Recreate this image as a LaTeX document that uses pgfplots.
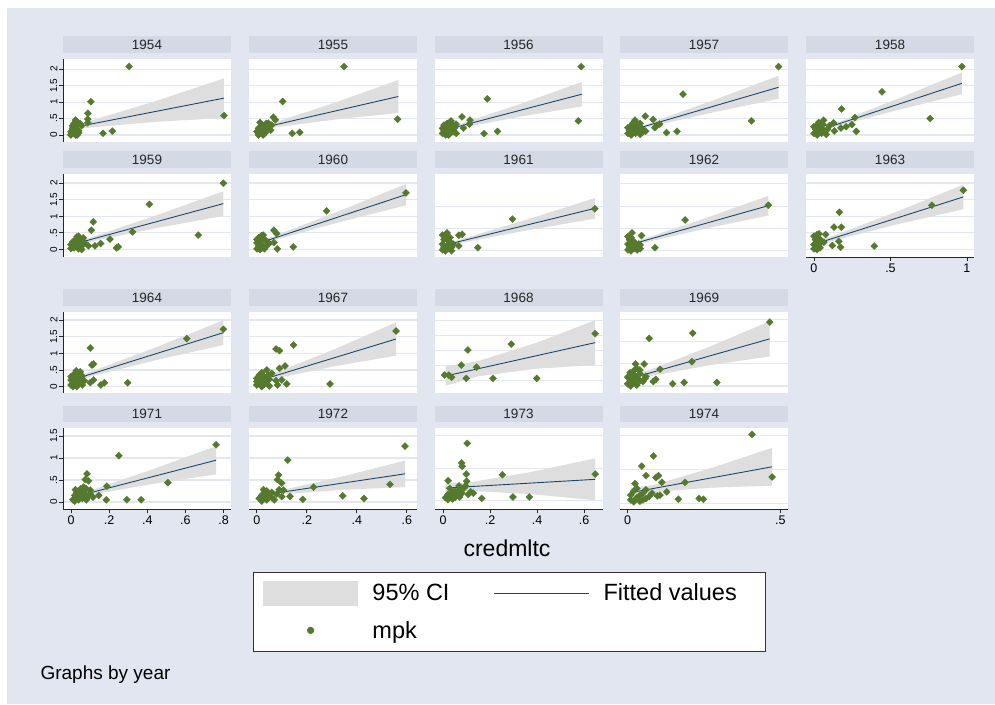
\documentclass[border=0pt]{standalone}
\usepackage{fontspec}
\setmainfont{Liberation Sans}
\usepackage{pgfplots}
\pgfplotsset{compat=1.18}
\definecolor{bgc}{HTML}{E1E6F0}
\definecolor{stripc}{HTML}{D3D9E5}
\definecolor{gridc}{HTML}{E3E8F0}
\definecolor{bandc}{HTML}{DEDEDE}
\definecolor{navyc}{HTML}{1A476F}
\definecolor{greenc}{HTML}{557A2E}
\newcommand{\fs}[1]{\fontsize{#1}{#1}\selectfont}
\pgfplotsset{
 panel/.style={
  scale only axis, width=168pt,
  axis background/.style={fill=white},
  axis x line*=bottom, axis y line*=left,
  x axis line style={draw=none}, y axis line style={draw=none},
  xtick=\empty, ymajorgrids,
  grid style={gridc, line width=1.1pt},
  ytick style={draw=none}, yticklabels={},
  major tick length=4pt, tick align=outside,
  title style={at={(0.5,1)}, anchor=south, fill=stripc, minimum width=168pt,
    minimum height=16.5pt, inner sep=0pt, font=\fs{13.5}, text=black!85},
 },
 yon/.style={y axis line style={draw=black!85, line width=0.8pt},
   ytick style={draw=black!85, line width=0.8pt},
   yticklabel style={rotate=90, anchor=south, font=\fs{10}, inner sep=1.5pt}},
 xon/.style={x axis line style={draw=black!85, line width=0.8pt},
   xtick style={draw=black!85, line width=0.8pt},
   xticklabel style={font=\fs{12.5}, inner sep=2pt}},
 topx/.style={xmin=-0.052, xmax=1.046},
 r1/.style={height=83pt, ymin=-0.213, ymax=2.31, ytick={0,0.5,1,1.5,2}},
 r2/.style={height=83.5pt, ymin=-0.24, ymax=2.27, ytick={0,0.5,1,1.5,2}},
 band/.style={fill=bandc, draw=none},
 fit/.style={navyc, line width=0.9pt, no marks},
 pts/.style={only marks, mark=square*, mark size=2.5pt,
   mark options={rotate=45, fill=greenc, draw=greenc, line width=0.3pt}},
}
\begin{document}
\begin{tikzpicture}
\useasboundingbox (0pt,0pt) rectangle (995pt,704pt);
\fill[white] (0pt,0pt) rectangle (995pt,704pt);
\fill[bgc] (7pt,0pt) rectangle (995pt,696pt);
\node[anchor=base, font=\fs{23}] at (507pt,147pt) {credmltc};
\node[anchor=base west, font=\fs{19}] at (37pt,25pt) {Graphs by year};

% ---------- 1954
\begin{axis}[panel, topx, r1, yon, yticklabels={0,.5,1,1.5,2}, title={1954}, at={(63pt,562pt)}, anchor=south west]
\addplot[band] coordinates {(0.04,0.166)(0.08,0.206)(0.54,0.395)(1.0,0.52)(1.0,1.72)(0.54,1.011)(0.08,0.366)(0.04,0.334)} --cycle;
\addplot[fit] coordinates {(0.04,0.25)(1.0,1.12)};
\addplot[pts] coordinates {(0.00,0.10)(0.01,0.20)(0.02,0.05)(0.02,0.35)(0.02,0.15)(0.03,0.25)(0.04,0.40)(0.04,0.00)(0.05,0.13)(0.06,0.35)(0.03,0.00)(0.00,0.00)(0.05,0.07)(0.00,0.02)(0.01,0.28)(0.07,0.28)(0.03,0.45)(0.11,0.37)(0.11,0.48)(0.11,0.66)(0.13,1.01)(0.21,0.05)(0.27,0.12)(0.38,2.08)(1.00,0.59)};
\end{axis}
% ---------- 1955
\begin{axis}[panel, topx, r1, title={1955}, at={(249pt,562pt)}, anchor=south west]
\addplot[band] coordinates {(0.01,0.105)(0.1,0.219)(0.512,0.472)(0.924,0.67)(0.924,1.67)(0.512,0.986)(0.1,0.359)(0.01,0.281)} --cycle;
\addplot[fit] coordinates {(0.01,0.193)(0.924,1.17)};
\addplot[pts] coordinates {(0.0,0.1)(0.01,0.2)(0.02,0.05)(0.03,0.15)(0.04,0.0)(0.05,0.25)(0.06,0.1)(0.07,0.2)(0.08,0.28)(0.03,0.3)(0.01,0.0)(0.05,0.05)(0.09,0.15)(0.06,0.35)(0.02,0.22)(0.02,0.38)(0.074,0.36)(0.096,0.30)(0.12,0.46)(0.107,0.54)(0.168,1.02)(0.231,0.05)(0.279,0.08)(0.569,2.08)(0.919,0.48)};
\end{axis}
% ---------- 1956
\begin{axis}[panel, topx, r1, title={1956}, at={(434.5pt,562pt)}, anchor=south west]
\addplot[band] coordinates {(0.01,0.072)(0.1,0.194)(0.505,0.554)(0.911,0.87)(0.911,1.61)(0.505,0.938)(0.1,0.314)(0.01,0.216)} --cycle;
\addplot[fit] coordinates {(0.01,0.144)(0.911,1.24)};
\addplot[pts] coordinates {(0.0,0.05)(0.01,0.15)(0.02,0.0)(0.02,0.25)(0.03,0.1)(0.04,0.3)(0.05,0.05)(0.05,0.18)(0.06,0.35)(0.07,0.1)(0.08,0.22)(0.03,0.35)(0.0,0.2)(0.04,0.0)(0.09,0.05)(0.01,0.3)(0.056,0.43)(0.089,0.33)(0.137,0.21)(0.176,0.33)(0.18,0.45)(0.128,0.55)(0.36,0.11)(0.272,0.04)(0.293,1.10)(0.888,0.43)(0.907,2.08)};
\end{axis}
% ---------- 1957
\begin{axis}[panel, topx, r1, title={1957}, at={(620pt,562pt)}, anchor=south west]
\addplot[band] coordinates {(0.01,0.061)(0.12,0.227)(0.552,0.684)(0.984,1.10)(0.984,1.80)(0.552,1.044)(0.12,0.327)(0.01,0.195)} --cycle;
\addplot[fit] coordinates {(0.01,0.128)(0.984,1.45)};
\addplot[pts] coordinates {(0.0,0.05)(0.01,0.15)(0.02,0.0)(0.02,0.28)(0.03,0.1)(0.04,0.2)(0.05,0.05)(0.06,0.3)(0.07,0.12)(0.08,0.02)(0.09,0.2)(0.1,0.1)(0.03,0.35)(0.0,0.22)(0.05,0.38)(0.046,0.45)(0.08,0.35)(0.113,0.57)(0.164,0.47)(0.116,0.12)(0.176,0.22)(0.207,0.33)(0.19,0.30)(0.252,0.07)(0.32,0.11)(0.36,1.24)(0.807,0.43)(0.984,2.08)};
\end{axis}
% ---------- 1958
\begin{axis}[panel, topx, r1, title={1958}, at={(806pt,562pt)}, anchor=south west]
\addplot[band] coordinates {(0.01,0.04)(0.13,0.241)(0.549,0.761)(0.967,1.24)(0.967,1.90)(0.549,1.103)(0.13,0.341)(0.01,0.176)} --cycle;
\addplot[fit] coordinates {(0.01,0.108)(0.967,1.57)};
\addplot[pts] coordinates {(0.0,0.05)(0.01,0.18)(0.02,0.0)(0.02,0.3)(0.03,0.1)(0.04,0.22)(0.05,0.05)(0.06,0.32)(0.07,0.12)(0.08,0.02)(0.09,0.18)(0.1,0.28)(0.03,0.38)(0.0,0.25)(0.05,0.12)(0.063,0.45)(0.128,0.37)(0.133,0.12)(0.176,0.21)(0.181,0.79)(0.21,0.25)(0.248,0.32)(0.267,0.53)(0.277,0.11)(0.445,1.31)(0.759,0.50)(0.967,2.08)};
\end{axis}
% ---------- 1959
\begin{axis}[panel, topx, r2, yon, yticklabels={0,.5,1,1.5,2}, title={1959}, at={(63pt,446.5pt)}, anchor=south west]
\addplot[band] coordinates {(0,0.062)(0.12,0.229)(0.558,0.643)(0.996,1.01)(0.996,1.75)(0.558,1.027)(0.12,0.349)(0,0.218)} --cycle;
\addplot[fit] coordinates {(0,0.14)(0.996,1.38)};
\addplot[pts] coordinates {(0.0,0.03)(0.0,0.15)(0.01,0.22)(0.02,0.05)(0.03,0.3)(0.04,0.12)(0.05,0.4)(0.05,0.02)(0.06,0.25)(0.07,0.1)(0.08,0.35)(0.03,0.18)(0.01,0.08)(0.07,0.0)(0.09,0.2)(0.04,0.38)(0.115,0.11)(0.133,0.58)(0.146,0.83)(0.157,0.11)(0.194,0.18)(0.255,0.31)(0.298,0.05)(0.309,0.08)(0.403,0.53)(0.512,1.36)(0.832,0.43)(0.996,1.99)};
\end{axis}
% ---------- 1960
\begin{axis}[panel, topx, r2, title={1960}, at={(249pt,446.5pt)}, anchor=south west]
\addplot[band] coordinates {(0,0.10)(0.1,0.262)(0.537,0.818)(0.974,1.33)(0.974,1.97)(0.537,1.154)(0.1,0.382)(0,0.24)} --cycle;
\addplot[fit] coordinates {(0,0.17)(0.974,1.65)};
\addplot[pts] coordinates {(0.0,0.02)(0.0,0.2)(0.01,0.1)(0.01,0.35)(0.02,0.0)(0.02,0.25)(0.03,0.15)(0.03,0.42)(0.04,0.05)(0.05,0.3)(0.06,0.1)(0.07,0.22)(0.0,0.3)(0.05,0.02)(0.08,0.18)(0.041,0.43)(0.111,0.21)(0.111,0.58)(0.128,0.48)(0.133,0.02)(0.237,0.08)(0.455,1.16)(0.974,1.70)};
\end{axis}
% ---------- 1961
\begin{axis}[panel, topx, height=83.5pt, ymin=-0.15, ymax=1.72, ytick={0,0.5,1}, title={1961}, at={(434.5pt,446.5pt)}, anchor=south west]
\addplot[band] coordinates {(0,0.075)(0.09,0.156)(0.543,0.451)(0.996,0.72)(0.996,1.18)(0.543,0.689)(0.09,0.226)(0,0.157)} --cycle;
\addplot[fit] coordinates {(0,0.116)(0.996,0.95)};
\addplot[pts] coordinates {(0.0,0.02)(0.0,0.15)(0.01,0.08)(0.01,0.25)(0.02,0.0)(0.02,0.32)(0.03,0.12)(0.03,0.4)(0.04,0.05)(0.05,0.2)(0.05,0.3)(0.06,0.08)(0.07,0.15)(0.0,0.35)(0.04,0.22)(0.06,0.0)(0.107,0.11)(0.107,0.35)(0.129,0.37)(0.231,0.07)(0.458,0.71)(0.996,0.94)};
\end{axis}
% ---------- 1962
\begin{axis}[panel, topx, height=83.5pt, ymin=-0.15, ymax=1.72, ytick={0,0.5,1,1.5}, title={1962}, at={(620pt,446.5pt)}, anchor=south west]
\addplot[band] coordinates {(0,0.079)(0.08,0.161)(0.499,0.491)(0.917,0.79)(0.917,1.23)(0.499,0.721)(0.08,0.241)(0,0.169)} --cycle;
\addplot[fit] coordinates {(0,0.124)(0.917,1.01)};
\addplot[pts] coordinates {(0.0,0.02)(0.0,0.15)(0.01,0.08)(0.01,0.25)(0.02,0.0)(0.02,0.3)(0.03,0.12)(0.04,0.05)(0.04,0.2)(0.05,0.1)(0.06,0.02)(0.07,0.15)(0.0,0.32)(0.03,0.22)(0.08,0.05)(0.026,0.40)(0.08,0.13)(0.089,0.34)(0.176,0.07)(0.373,0.69)(0.917,1.02)};
\end{axis}
% ---------- 1963
\begin{axis}[panel, topx, r2, xon, xtick={0,0.5,1}, xticklabels={0,.5,1}, title={1963}, at={(806pt,446.5pt)}, anchor=south west]
\addplot[band] coordinates {(0,0.068)(0.12,0.26)(0.548,0.761)(0.976,1.21)(0.976,1.95)(0.548,1.149)(0.12,0.40)(0,0.242)} --cycle;
\addplot[fit] coordinates {(0,0.155)(0.976,1.58)};
\addplot[pts] coordinates {(0.0,0.02)(0.0,0.15)(0.01,0.3)(0.01,0.08)(0.02,0.22)(0.02,0.0)(0.03,0.12)(0.03,0.35)(0.04,0.05)(0.05,0.25)(0.0,0.4)(0.02,0.45)(0.04,0.3)(0.01,0.18)(0.033,0.47)(0.065,0.22)(0.076,0.45)(0.12,0.12)(0.131,0.67)(0.163,0.25)(0.166,1.12)(0.174,0.07)(0.179,0.67)(0.394,0.10)(0.771,1.33)(0.976,1.78)};
\end{axis}
% ---------- 1964
\begin{axis}[panel, xmin=-0.042, xmax=0.839, height=81pt, ymin=-0.19, ymax=2.24, ytick={0,0.5,1,1.5,2}, yon, yticklabels={0,.5,1,1.5,2}, title={1964}, at={(63pt,311pt)}, anchor=south west]
\addplot[band] coordinates {(0,0.105)(0.1,0.301)(0.45,0.801)(0.799,1.25)(0.799,1.99)(0.45,1.191)(0.1,0.441)(0,0.279)} --cycle;
\addplot[fit] coordinates {(0,0.192)(0.799,1.62)};
\addplot[pts] coordinates {(0.0,0.05)(0.0,0.3)(0.01,0.15)(0.01,0.0)(0.02,0.22)(0.02,0.08)(0.03,0.35)(0.03,0.0)(0.04,0.12)(0.05,0.25)(0.06,0.05)(0.07,0.18)(0.0,0.2)(0.02,0.4)(0.028,0.48)(0.04,0.20)(0.049,0.45)(0.058,0.32)(0.101,0.12)(0.101,1.16)(0.11,0.65)(0.119,0.68)(0.119,0.20)(0.157,0.05)(0.175,0.12)(0.297,0.12)(0.607,1.44)(0.799,1.72)};
\end{axis}
% ---------- 1967
\begin{axis}[panel, xmin=-0.031, xmax=0.641, height=81pt, ymin=-0.19, ymax=2.24, ytick={0,0.5,1,1.5,2}, title={1967}, at={(249pt,311pt)}, anchor=south west]
\addplot[band] coordinates {(0,0.037)(0.08,0.251)(0.318,0.623)(0.557,0.93)(0.557,1.93)(0.318,1.145)(0.08,0.431)(0,0.281)} --cycle;
\addplot[fit] coordinates {(0,0.159)(0.557,1.43)};
\addplot[pts] coordinates {(0.0,0.05)(0.0,0.25)(0.01,0.12)(0.01,0.35)(0.02,0.0)(0.02,0.2)(0.03,0.3)(0.03,0.08)(0.04,0.15)(0.05,0.22)(0.06,0.4)(0.05,0.02)(0.0,0.15)(0.02,0.42)(0.04,0.50)(0.047,0.35)(0.077,0.18)(0.077,1.13)(0.083,0.05)(0.091,1.08)(0.091,0.55)(0.10,0.20)(0.113,0.62)(0.12,0.08)(0.147,1.25)(0.293,0.08)(0.557,1.67)};
\end{axis}
% ---------- 1968
\begin{axis}[panel, xmin=-0.037, xmax=0.678, height=81pt, ymin=-0.40, ymax=2.27, ytick={0,0.5,1,1.5,2}, title={1968}, at={(434.5pt,311pt)}, anchor=south west]
\addplot[band] coordinates {(0.01,-0.158)(0.15,0.152)(0.399,0.403)(0.647,0.52)(0.647,2.0)(0.399,1.261)(0.15,0.652)(0.01,0.478)} --cycle;
\addplot[fit] coordinates {(0.01,0.16)(0.647,1.26)};
\addplot[pts] coordinates {(0.006,0.19)(0.024,0.19)(0.036,0.12)(0.077,0.52)(0.098,0.08)(0.105,1.02)(0.142,0.45)(0.212,0.08)(0.29,1.21)(0.398,0.08)(0.647,1.56)};
\end{axis}
% ---------- 1969
\begin{axis}[panel, xmin=-0.025, xmax=0.525, height=81pt, ymin=-0.16, ymax=1.68, ytick={0,0.5,1,1.5}, title={1969}, at={(620pt,311pt)}, anchor=south west]
\addplot[band] coordinates {(0,0.052)(0.07,0.219)(0.268,0.471)(0.465,0.67)(0.465,1.47)(0.268,0.891)(0.07,0.359)(0,0.25)} --cycle;
\addplot[fit] coordinates {(0,0.151)(0.465,1.07)};
\addplot[pts] coordinates {(0.0,0.05)(0.01,0.15)(0.01,0.0)(0.02,0.25)(0.02,0.08)(0.03,0.18)(0.03,0.02)(0.04,0.28)(0.05,0.1)(0.04,0.12)(0.02,0.35)(0.06,0.22)(0.0,0.2)(0.03,0.4)(0.008,0.30)(0.026,0.50)(0.04,0.36)(0.054,0.50)(0.057,0.17)(0.071,1.08)(0.084,0.10)(0.092,0.15)(0.106,0.38)(0.147,0.05)(0.185,0.08)(0.21,0.55)(0.213,1.20)(0.292,0.08)(0.465,1.45)};
\end{axis}
% ---------- 1971 (carries the legend)
\begin{axis}[panel, xmin=-0.042, xmax=0.839, height=81pt, ymin=-0.166, ymax=1.675, ytick={0,0.5,1,1.5}, yon, yticklabels={0,.5,1,1.5}, xon, xtick={0,0.2,0.4,0.6,0.8}, xticklabels={0,.2,.4,.6,.8}, title={1971}, at={(63pt,194.7pt)}, anchor=south west,
  legend style={at={(1.1327,-0.770)}, anchor=north west, draw=black!80, line width=0.8pt, fill=white,
    font=\fs{23.5}, inner xsep=9pt, inner ysep=8pt, row sep=11pt,
    /tikz/every even column/.append style={column sep=42pt},
    /tikz/every odd column/.append style={column sep=12pt}},
  legend columns=2, legend cell align=left]
\addplot[band, legend image code/.code={\fill[bandc] (0pt,-12.5pt) rectangle (95pt,12.5pt);}] coordinates {(0.01,0.042)(0.1,0.159)(0.43,0.413)(0.761,0.63)(0.761,1.27)(0.43,0.745)(0.1,0.259)(0.01,0.174)} --cycle;
\addlegendentry{95\% CI}
\addplot[fit, legend image code/.code={\draw[navyc, line width=1pt] (0pt,0pt) -- (95pt,0pt); \path (0pt,-12.5pt) (95pt,12.5pt);}] coordinates {(0.01,0.108)(0.761,0.95)};
\addlegendentry{Fitted values\rule{18pt}{0pt}}
\addplot[pts, legend image code/.code={\fill[greenc] (47.5pt,0pt) circle (3.2pt); \path (0pt,-13pt) (95pt,13pt);}] coordinates {(0.01,0.05)(0.02,0.15)(0.02,0.02)(0.03,0.22)(0.03,0.1)(0.04,0.05)(0.05,0.15)(0.06,0.25)(0.06,0.08)(0.07,0.2)(0.08,0.3)(0.09,0.12)(0.1,0.18)(0.05,0.3)(0.08,0.05)(0.023,0.28)(0.04,0.19)(0.066,0.34)(0.075,0.51)(0.084,0.64)(0.092,0.48)(0.101,0.27)(0.115,0.11)(0.145,0.15)(0.185,0.05)(0.188,0.36)(0.251,1.05)(0.293,0.05)(0.368,0.05)(0.508,0.44)(0.761,1.30)};
\addlegendentry{mpk}
\end{axis}
% ---------- 1972
\begin{axis}[panel, xmin=-0.031, xmax=0.641, height=81pt, ymin=-0.166, ymax=1.675, ytick={0,0.5,1,1.5}, xon, xtick={0,0.2,0.4,0.6}, xticklabels={0,.2,.4,.6}, title={1972}, at={(249pt,194.7pt)}, anchor=south west]
\addplot[band] coordinates {(0.01,0.069)(0.11,0.182)(0.352,0.28)(0.593,0.34)(0.593,0.94)(0.352,0.594)(0.11,0.282)(0.01,0.227)} --cycle;
\addplot[fit] coordinates {(0.01,0.148)(0.593,0.64)};
\addplot[pts] coordinates {(0.01,0.08)(0.02,0.15)(0.02,0.02)(0.03,0.2)(0.03,0.1)(0.04,0.05)(0.05,0.15)(0.06,0.22)(0.06,0.1)(0.07,0.05)(0.08,0.18)(0.09,0.28)(0.1,0.12)(0.04,0.25)(0.027,0.28)(0.047,0.17)(0.083,0.51)(0.087,0.61)(0.10,0.43)(0.107,0.27)(0.124,0.95)(0.133,0.13)(0.184,0.06)(0.227,0.34)(0.344,0.14)(0.429,0.08)(0.533,0.40)(0.593,1.27)};
\end{axis}
% ---------- 1973
\begin{axis}[panel, xmin=-0.037, xmax=0.678, height=81pt, ymin=-0.128, ymax=1.11, ytick={0,0.5,1}, xon, xtick={0,0.2,0.4,0.6}, xticklabels={0,.2,.4,.6}, title={1973}, at={(434.5pt,194.7pt)}, anchor=south west]
\addplot[band] coordinates {(0.01,0.118)(0.1,0.156)(0.374,0.104)(0.647,0.01)(0.647,0.65)(0.374,0.442)(0.1,0.276)(0.01,0.276)} --cycle;
\addplot[fit] coordinates {(0.01,0.197)(0.647,0.33)};
\addplot[pts] coordinates {(0.01,0.05)(0.02,0.1)(0.02,0.02)(0.03,0.08)(0.04,0.12)(0.05,0.05)(0.05,0.15)(0.06,0.1)(0.07,0.18)(0.07,0.06)(0.08,0.12)(0.09,0.2)(0.1,0.3)(0.04,0.03)(0.021,0.31)(0.028,0.19)(0.067,0.23)(0.078,0.58)(0.081,0.53)(0.095,0.23)(0.098,0.41)(0.102,0.88)(0.107,0.10)(0.117,0.14)(0.128,0.12)(0.164,0.04)(0.252,0.40)(0.297,0.06)(0.367,0.06)(0.647,0.41)};
\end{axis}
% ---------- 1974
\begin{axis}[panel, xmin=-0.025, xmax=0.525, height=81pt, ymin=-0.089, ymax=1.11, ytick={0,0.5,1}, xon, xtick={0,0.5}, xticklabels={0,.5}, title={1974}, at={(620pt,194.7pt)}, anchor=south west]
\addplot[band] coordinates {(0.01,0.088)(0.08,0.166)(0.277,0.232)(0.473,0.26)(0.473,0.82)(0.277,0.526)(0.08,0.266)(0.01,0.228)} --cycle;
\addplot[fit] coordinates {(0.01,0.158)(0.473,0.54)};
\addplot[pts] coordinates {(0.01,0.05)(0.01,0.12)(0.02,0.02)(0.03,0.08)(0.04,0.12)(0.04,0.03)(0.05,0.15)(0.06,0.07)(0.06,0.2)(0.07,0.1)(0.08,0.15)(0.03,0.22)(0.05,0.05)(0.02,0.18)(0.024,0.29)(0.046,0.55)(0.06,0.41)(0.084,0.70)(0.093,0.38)(0.097,0.11)(0.101,0.41)(0.106,0.12)(0.112,0.31)(0.128,0.17)(0.166,0.06)(0.188,0.31)(0.234,0.07)(0.248,0.06)(0.407,1.02)(0.473,0.39)};
\end{axis}
\end{tikzpicture}
\end{document}
